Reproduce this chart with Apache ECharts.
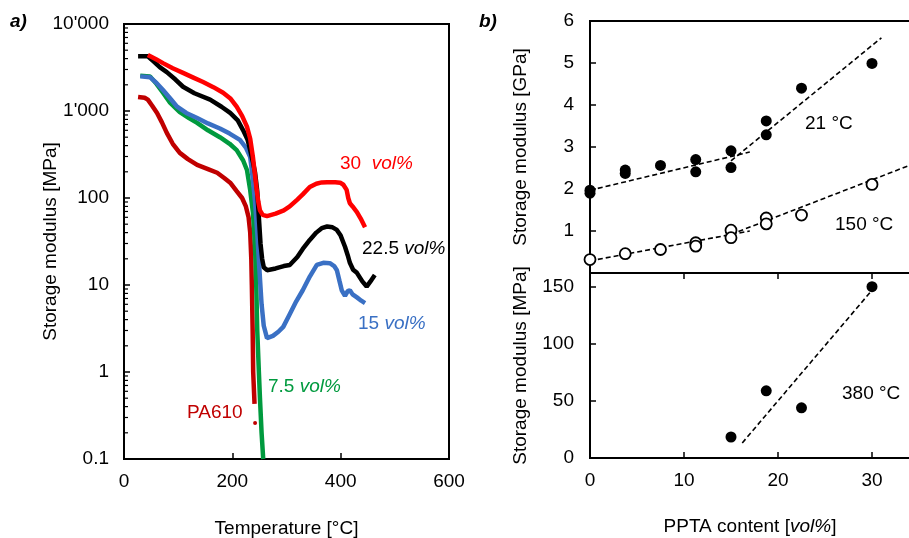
<!DOCTYPE html>
<html><head><meta charset="utf-8">
<script src="https://cdn.jsdelivr.net/npm/echarts@6/dist/echarts.min.js"></script>
<style>html,body{margin:0;padding:0;background:#fff}#c{width:909px;height:538px}</style>
</head><body><div id="c"></div>
<script>
// ---------- Panel a: storage modulus vs temperature ----------
const pa30 = [[44,4400],[60,3900],[72,3550],[90,3100],[109,2740],[128,2420],[146,2150],[165,1880],[183,1620],[197,1380],[208,1120],[218,880],[227,660],[233,480],[238,295],[242,180],[245,123],[248,90],[251,72],[256,64],[264,62],[280,66],[295,72],[306,80],[320,96],[330,110],[343,134],[355,146],[365,151],[375,152],[390,152],[399,150],[405,142],[411,124],[414,100],[417,87],[422,80],[430,69],[437,58],[445,46]];
const pa225 = [[26,4250],[44,4250],[55,3700],[66,3200],[79,2800],[95,2300],[109,1900],[130,1600],[159,1350],[180,1120],[196,950],[210,780],[220,600],[228,470],[233,355],[238,260],[242,195],[246,120],[249,60],[252,30],[255,20],[258,16],[264,14.8],[280,15.5],[295,16.5],[306,17],[320,21],[330,26],[343,33],[355,40],[365,45],[375,47],[385,46],[393,43],[400,37],[408,27.5],[413,22],[417,18],[423,15],[430,13.8],[440,11],[448,9.6],[455,11],[463,13]];
const pa15 = [[30,2500],[48,2450],[60,2100],[72,1740],[85,1400],[98,1120],[115,950],[135,830],[155,720],[177,630],[195,550],[214,465],[225,380],[233,296],[238,161],[242,90],[246,40],[250,15],[254,6],[258,3.4],[264,2.45],[275,2.6],[285,2.9],[294,3.3],[305,4.5],[318,6.5],[330,8.7],[343,12.5],[356,17],[368,18],[380,17.8],[388,16.5],[393,14.8],[398,11],[402,8.7],[408,7.5],[413,8.5],[417,8.7],[422,7.8],[430,7.2],[438,6.6],[445,6.2]];
const pa75 = [[30,2550],[48,2500],[60,2050],[72,1620],[85,1250],[103,970],[120,830],[135,730],[155,600],[177,500],[195,420],[208,355],[220,270],[227,210],[233,123],[238,68],[241,35],[243,18],[244.5,8],[246,3],[249,1],[251,0.5],[254,0.2],[257,0.1]];
const paPA610 = [[26,1450],[38,1420],[44,1350],[52,1150],[61,950],[70,740],[79,560],[90,420],[103,330],[118,280],[135,240],[155,215],[172,195],[185,170],[196,150],[208,120],[218,100],[225,80],[230,60],[233,40],[235,20],[236,10],[237.5,3],[238.5,1],[240,0.6],[241,0.43]];
const paPA610Outlier = [[242,0.26]];
const logMinorTicks = [0.2,0.3,0.4,0.5,0.6,0.7,0.8,0.9,2,3,4,5,6,7,8,9,20,30,40,50,60,70,80,90,200,300,400,500,600,700,800,900,2000,3000,4000,5000,6000,7000,8000,9000];

// ---------- Panel b: storage modulus vs PPTA content ----------
const content21 = [0,0,3.75,3.75,7.5,11.25,11.25,15,15,18.75,18.75,22.5,30];
const gpa21 = [1.9,1.97,2.45,2.37,2.56,2.70,2.41,2.91,2.51,3.62,3.29,4.40,4.99];
const content150 = [0,3.75,7.5,11.25,11.25,15,15,18.75,18.75,22.5,30];
const gpa150 = [0.32,0.46,0.56,0.72,0.64,1.02,0.84,1.31,1.17,1.38,2.11];
const content380 = [15,18.75,22.5,30];
const mpa380 = [18.4,58.8,43.9,150];
const fit21Low = [[0,1.97],[17,2.88]];
const fit21High = [[15,2.67],[31,5.6]];
const fit150Low = [[0,0.29],[17,1.0]];
const fit150High = [[15,0.92],[35,2.65]];
const fit380 = [[16.2,13.2],[29.8,145]];

const FONT = 'Liberation Sans, Arial, sans-serif';
const FS = 19;
const zip = (xs, ys) => xs.map((x, i) => [x, ys[i]]);
const fmtThousands = v => {
  if (v >= 1000) { const s = String(Math.round(v)); return s.slice(0, s.length - 3) + "'" + s.slice(-3); }
  if (v < 1) return String(+v.toFixed(2));
  return String(Math.round(v));
};

const axisLine = {lineStyle: {color: '#000', width: 2}};
const lbl = {color: '#000', fontFamily: FONT, fontSize: FS};
const nameStyle = {color: '#000', fontFamily: FONT, fontSize: FS};

const chart = echarts.init(document.getElementById('c'), null, {renderer: 'canvas'});
const lineS = (data, color, z) => ({
  type: 'line', xAxisIndex: 0, yAxisIndex: 0, data, showSymbol: false, symbol: 'none',
  lineStyle: {color, width: 4.5}, z, silent: true, animation: false
});
const dashS = (data, xi, yi) => ({
  type: 'line', xAxisIndex: xi, yAxisIndex: yi, data, symbol: 'none',
  lineStyle: {color: '#000', width: 1.6, type: [5, 3]}, z: 2, animation: false
});
const gridBase = {show: true, borderColor: '#000', borderWidth: 2, backgroundColor: 'transparent', containLabel: false, outerBoundsMode: 'none'};
const italicRich = c => ({i: {fontStyle: 'italic', fontSize: FS, fontFamily: FONT, fill: c, color: c}});

chart.setOption({
  animation: false,
  grid: [
    Object.assign({left: 124, top: 24, width: 325, height: 435}, gridBase),
    Object.assign({left: 590, top: 21, width: 376, height: 252}, gridBase),
    Object.assign({left: 590, top: 273, width: 376, height: 185}, gridBase)
  ],
  xAxis: [
    {gridIndex: 0, type: 'value', min: 0, max: 600, interval: 200, axisLine,
     axisTick: {inside: true, length: 6, lineStyle: {color: '#000', width: 1.5}},
     axisLabel: Object.assign({margin: 13}, lbl), splitLine: {show: false},
     name: 'Temperature [°C]', nameLocation: 'middle', nameGap: 60, nameMoveOverlap: false, nameTextStyle: nameStyle},
    {gridIndex: 1, type: 'value', min: 0, max: 40, interval: 10, axisLine: {show: false},
     axisTick: {show: false}, axisLabel: {show: false}, splitLine: {show: false}},
    {gridIndex: 2, type: 'value', min: 0, max: 40, interval: 10, axisLine,
     axisTick: {inside: true, length: 6, lineStyle: {color: '#000', width: 1.5}},
     axisLabel: Object.assign({margin: 13}, lbl), splitLine: {show: false}},
    {gridIndex: 2, type: 'value', position: 'top', min: 0, max: 40, interval: 10, axisLine,
     axisTick: {inside: true, length: 6, lineStyle: {color: '#000', width: 1.5}},
     axisLabel: {show: false}, splitLine: {show: false}}
  ],
  yAxis: [
    {gridIndex: 0, type: 'log', logBase: 10, min: 0.1, max: 10000, axisLine,
     axisTick: {inside: true, length: 6, lineStyle: {color: '#000', width: 1.5}},
     axisLabel: Object.assign({margin: 15, formatter: fmtThousands}, lbl), splitLine: {show: false},
     name: 'Storage modulus [MPa]', nameLocation: 'middle', nameGap: 64, nameMoveOverlap: false, nameTextStyle: nameStyle},
    {gridIndex: 1, type: 'value', min: 0, max: 6, interval: 1, axisLine,
     axisTick: {inside: true, length: 6, lineStyle: {color: '#000', width: 1.5}},
     axisLabel: Object.assign({margin: 16, showMinLabel: false}, lbl), splitLine: {show: false},
     name: 'Storage modulus [GPa]', nameLocation: 'middle', nameGap: 60, nameMoveOverlap: false, nameTextStyle: nameStyle},
    {gridIndex: 2, type: 'value', min: 0, max: 162, interval: 50, axisLine,
     axisTick: {inside: true, length: 6, lineStyle: {color: '#000', width: 1.5}},
     axisLabel: Object.assign({margin: 16, showMaxLabel: false}, lbl), splitLine: {show: false},
     name: 'Storage modulus [MPa]', nameLocation: 'middle', nameGap: 60, nameMoveOverlap: false, nameTextStyle: nameStyle}
  ],
  series: [
    {type: 'custom', xAxisIndex: 0, yAxisIndex: 0, data: logMinorTicks.map(v => [0, v]), silent: true, z: 5,
     renderItem: (params, api) => {
       const p = api.coord([0, api.value(1)]);
       return {type: 'line', shape: {x1: p[0], y1: p[1], x2: p[0] + 4, y2: p[1]}, style: {stroke: '#000', lineWidth: 1.2}};
     }},
    lineS(paPA610, '#C00000', 3),
    {type: 'scatter', xAxisIndex: 0, yAxisIndex: 0, data: paPA610Outlier, symbolSize: 4, itemStyle: {color: '#C00000', opacity: 1}, z: 3},
    lineS(pa75, '#009a3e', 4),
    lineS(pa15, '#3a70c4', 5),
    lineS(pa225, '#000000', 6),
    lineS(pa30, '#ff0000', 7),
    dashS(fit21Low, 1, 1), dashS(fit21High, 1, 1), dashS(fit150Low, 1, 1), dashS(fit150High, 1, 1),
    dashS(fit380, 2, 2),
    {type: 'scatter', xAxisIndex: 1, yAxisIndex: 1, data: zip(content21, gpa21), symbol: 'circle', symbolSize: 11,
     itemStyle: {color: '#000', opacity: 1}, z: 4},
    {type: 'scatter', xAxisIndex: 1, yAxisIndex: 1, data: zip(content150, gpa150), symbol: 'circle', symbolSize: 11,
     itemStyle: {color: '#fff', borderColor: '#000', borderWidth: 1.8, opacity: 1}, z: 4},
    {type: 'scatter', xAxisIndex: 2, yAxisIndex: 2, data: zip(content380, mpa380), symbol: 'circle', symbolSize: 11,
     itemStyle: {color: '#000', opacity: 1}, z: 4}
  ],
  graphic: [
    {type: 'text', x: 10, y: 22, style: {text: 'a)', font: 'italic bold 19px ' + FONT, fill: '#000', verticalAlign: 'middle'}},
    {type: 'text', x: 479, y: 22, style: {text: 'b)', font: 'italic bold 19px ' + FONT, fill: '#000', verticalAlign: 'middle'}},
    {type: 'text', x: 750, y: 527, style: {text: 'PPTA content [{i|vol%}]', font: '19px ' + FONT, fill: '#000', align: 'center', verticalAlign: 'middle', rich: italicRich('#000')}},
    {type: 'text', x: 340, y: 164, style: {text: '30  {i|vol%}', font: '19px ' + FONT, fill: '#ff0000', verticalAlign: 'middle', rich: italicRich('#ff0000')}},
    {type: 'text', x: 362, y: 249, style: {text: '22.5 {i|vol%}', font: '19px ' + FONT, fill: '#000', verticalAlign: 'middle', rich: italicRich('#000')}},
    {type: 'text', x: 358, y: 324, style: {text: '15 {i|vol%}', font: '19px ' + FONT, fill: '#3a70c4', verticalAlign: 'middle', rich: italicRich('#3a70c4')}},
    {type: 'text', x: 268, y: 387, style: {text: '7.5 {i|vol%}', font: '19px ' + FONT, fill: '#009a3e', verticalAlign: 'middle', rich: italicRich('#009a3e')}},
    {type: 'text', x: 187, y: 413, style: {text: 'PA610', font: '19px ' + FONT, fill: '#C00000', verticalAlign: 'middle'}},
    {type: 'text', x: 805, y: 124, style: {text: '21 °C', font: '19px ' + FONT, fill: '#000', verticalAlign: 'middle'}},
    {type: 'text', x: 835, y: 225, style: {text: '150 °C', font: '19px ' + FONT, fill: '#000', verticalAlign: 'middle'}},
    {type: 'text', x: 842, y: 394, style: {text: '380 °C', font: '19px ' + FONT, fill: '#000', verticalAlign: 'middle'}}
  ]
});
</script></body></html>
